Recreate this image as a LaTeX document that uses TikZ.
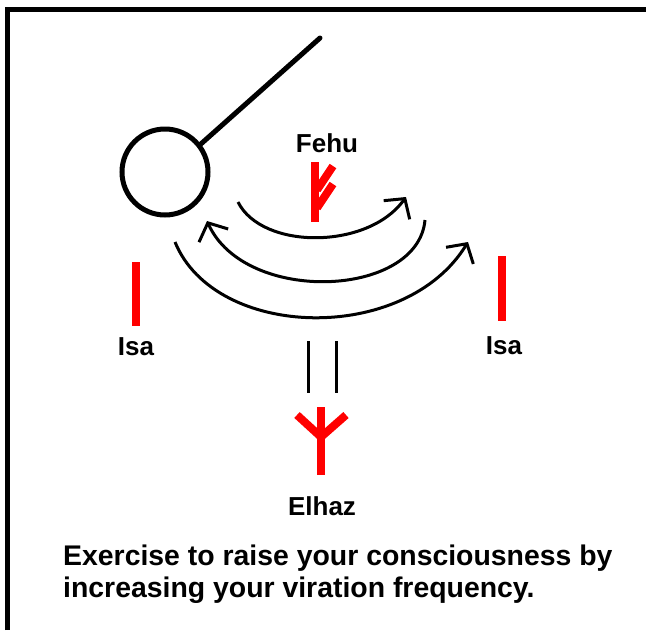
\documentclass[tikz,border=0pt]{standalone}
\usepackage{fontspec}
\setmainfont{Liberation Sans}
\usetikzlibrary{arrows.meta}
\tikzset{
  rune/.style={red, line width=8pt},
  wave/.style={line width=3pt, -{Straight Barb[length=14pt,width=32pt]}},
  runename/.style={font=\bfseries\fontsize{26}{30}\selectfont, inner sep=0pt, anchor=base},
  desc/.style={font=\bfseries\fontsize{28.4}{32}\selectfont, inner sep=0pt, anchor=base west},
}
\begin{document}
\begin{tikzpicture}[x=1pt,y=-1pt]
  \useasboundingbox (0,0) rectangle (646,630);
  % Rahmen
  \draw[line width=5pt] (7,630) -- (7,9) -- (646,9);
  % Kopf mit Stab
  \node[circle, draw, line width=5pt, minimum size=86pt] (head) at (165,172) {};
  \coordinate (stick) at (320,38);
  \draw[line width=5pt, line cap=round] (head.38) -- (stick);
  % Fehu
  \node[runename] (fehu) at (327,152) {Fehu};
  \draw[rune] (315,162) -- (315,222);
  \draw[rune] (317,190) -- (333,166);
  \draw[rune] (317,208) -- (333,184);
  % Wellen
  \draw[wave] (238,202) .. controls (262,250) and (368,250) .. (406,197);
  \draw[wave] (425,220) .. controls (418,298) and (245,305) .. (207,221);
  \draw[wave] (175,242) .. controls (215,340) and (405,345) .. (468,242);
  % Isa links und rechts
  \draw[rune] (136,262) -- (136,326);
  \node[runename] (isaL) at (136,355) {Isa};
  \draw[rune] (502,256) -- (502,321);
  \node[runename] (isaR) at (504,354) {Isa};
  % Doppelstrich
  \draw[line width=3pt] (308,341) -- (308,393);
  \draw[line width=3pt] (336,341) -- (336,393);
  % Elhaz
  \draw[rune] (321,407) -- (321,475);
  \draw[rune] (297,415) -- (321,437) -- (346,415);
  \node[runename] (elhaz) at (322,515) {Elhaz};
  % Text
  \node[desc] (desc1) at (63,565) {Exercise to raise your consciousness by};
  \node[desc] (desc2) at (63,597) {increasing your viration frequency.};
\end{tikzpicture}
\end{document}
